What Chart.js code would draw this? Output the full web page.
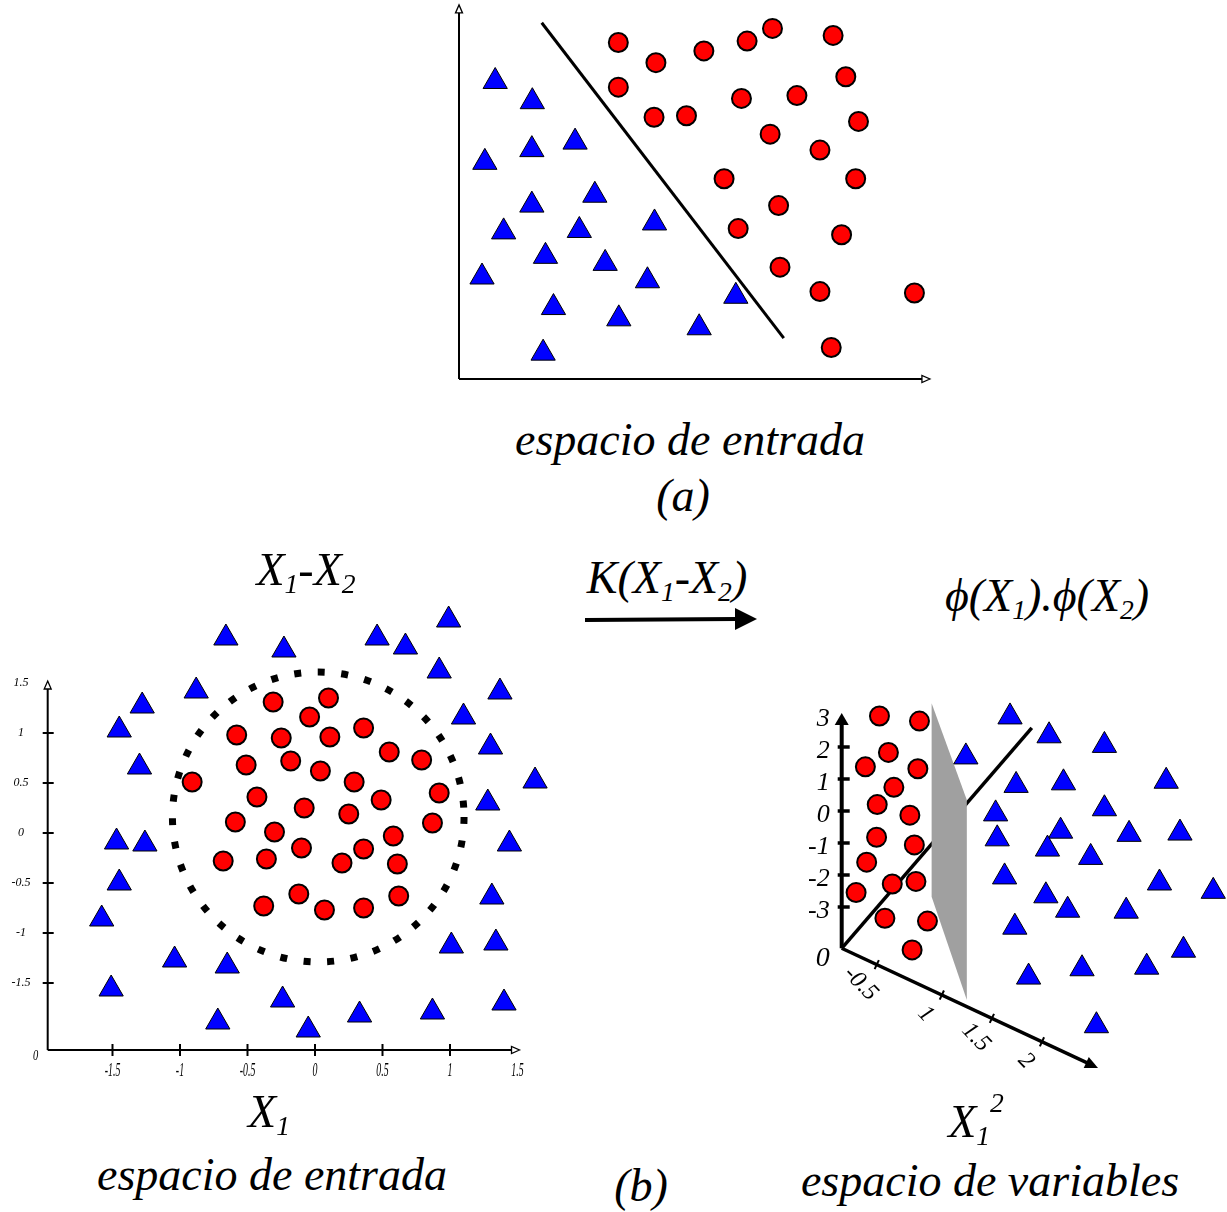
<!DOCTYPE html>
<html>
<head>
<meta charset="utf-8">
<script src="https://cdn.jsdelivr.net/npm/chart.js@4.4.0/dist/chart.umd.min.js"></script>
<style>
body { margin: 0; background: #fff; width: 1227px; height: 1212px; position: relative; overflow: hidden;
       font-family: "Liberation Serif", "Times New Roman", serif; font-style: italic; }
.panel { position: absolute; }
.txt { position: absolute; white-space: nowrap; font-size: 46px; line-height: 1; color: #000; transform: translateX(-50%); }
.txt sub { font-size: 0.6em; vertical-align: -0.28em; line-height: 0; }
.txt sup { font-size: 0.6em; vertical-align: 0.9em; line-height: 0; }
</style>
</head>
<body>

<canvas id="chartA" class="panel" width="510" height="400" style="left:440px;top:0px"></canvas>
<canvas id="chartB" class="panel" width="560" height="510" style="left:0px;top:590px"></canvas>
<canvas id="chartC" class="panel" width="447" height="410" style="left:780px;top:690px"></canvas>

<svg class="panel" style="left:575px;top:600px" width="200" height="40">
  <line x1="10" y1="20" x2="162" y2="19" stroke="#000" stroke-width="4"/>
  <polygon points="160,8 182,19 160,30" fill="#000"/>
</svg>

<div class="txt" style="left:690px;top:417px">espacio de entrada</div>
<div class="txt" style="left:683px;top:473px">(a)</div>
<div class="txt" style="left:306px;top:547px">X<sub>1</sub>-X<sub>2</sub></div>
<div class="txt" style="left:667px;top:555px">K(X<sub>1</sub>-X<sub>2</sub>)</div>
<div class="txt" style="left:1047px;top:573px">ϕ(X<sub>1</sub>).ϕ(X<sub>2</sub>)</div>
<div class="txt" style="left:269px;top:1089px">X<sub>1</sub></div>
<div class="txt" style="left:272px;top:1152px">espacio de entrada</div>
<div class="txt" style="left:641px;top:1163px">(b)</div>
<div class="txt" style="left:976px;top:1099px">X<sub>1</sub><sup>2</sup></div>
<div class="txt" style="left:990px;top:1158px">espacio de variables</div>

<script>
// ---------- (a) espacio de entrada : linearly separable ----------
const aCircleX = [3.39, 4.19, 5.21, 6.13, 6.67, 7.96, 3.39, 8.23, 6.01, 7.19, 4.15, 4.84,
                  8.50, 6.62, 7.68, 5.64, 8.44, 6.80, 5.94, 8.14, 6.83, 7.68, 9.69, 7.92];
const aCircleY = [7.16, 6.73, 6.98, 7.19, 7.46, 7.31, 6.21, 6.43, 5.97, 6.03, 5.57, 5.60,
                  5.48, 5.21, 4.87, 4.26, 4.26, 3.69, 3.20, 3.07, 2.38, 1.86, 1.83, 0.67];
const aTriX = [0.77, 1.56, 0.55, 1.55, 2.47, 1.55, 2.89, 0.95, 2.56, 4.16,
               1.84, 3.11, 0.49, 4.01, 2.01, 3.40, 5.89, 5.11, 1.79];
const aTriY = [6.33, 5.90, 4.61, 4.88, 5.04, 3.70, 3.91, 3.13, 3.16, 3.32,
               2.61, 2.46, 2.17, 2.09, 1.52, 1.28, 1.76, 1.09, 0.55];
const aSepX = [1.76, 6.91];
const aSepY = [7.58, 0.87];
const aAxisXMax = 10.02;
const aAxisYMax = 7.96;

// ---------- (b) X1-X2 : espacio de entrada ----------
const bCircleX = [-0.31, 0.10, -0.04, -0.58, -0.25, 0.11, 0.36, 0.55, 0.79, -0.51, -0.18, 0.04,
                  -0.91, 0.29, -0.43, -0.08, 0.49, 0.92, 0.25, -0.59, -0.30, 0.87, 0.58, -0.10,
                  0.36, -0.68, -0.36, 0.20, 0.61, -0.12, 0.62, -0.38, 0.07, 0.36];
const bCircleY = [1.31, 1.35, 1.16, 0.98, 0.95, 0.96, 1.05, 0.81, 0.73, 0.68, 0.72, 0.62,
                  0.51, 0.51, 0.36, 0.25, 0.33, 0.40, 0.19, 0.11, 0.01, 0.10, -0.03, -0.15,
                  -0.16, -0.28, -0.26, -0.30, -0.31, -0.61, -0.63, -0.73, -0.77, -0.75];
const bTriX = [-0.66, -0.23, 0.46, 0.67, 0.99, -0.88, 0.92, 1.37, 1.10, 1.30, 1.63, 1.28,
               1.44, 1.31, 1.01, 1.34, -1.04, -0.65, -0.24, 0.33, 0.87, 1.40, -0.72, -0.05,
               -1.28, -1.45, -1.30, -1.47, -1.26, -1.45, -1.58, -1.51];
const bTriY = [1.95, 1.83, 1.95, 1.86, 2.13, 1.42, 1.62, 1.41, 1.16, 0.86, 0.52, 0.30,
               -0.11, -0.64, -1.13, -1.10, -1.27, -1.33, -1.67, -1.82, -1.79, -1.70, -1.89, -1.97,
               1.27, 1.03, 0.66, -0.09, -0.11, -0.50, -0.86, -1.56];
const bTicks = [-1.5, -1, -0.5, 0, 0.5, 1, 1.5];
const bTickLabels = ['-1.5', '-1', '-0.5', '0', '0.5', '1', '1.5'];
const bOrigin = [-1.98, -2.17];
const bRingCenter = [0.024, 0.16];
const bRingRadius = [1.08, 1.45];

// ---------- (b) phi(X1).phi(X2) : espacio de variables ----------
const cCircleX = [1.18, 2.43, 1.46, 0.74, 2.38, 1.63, 1.11, 2.13, 1.09, 2.27, 0.78, 1.58,
                  2.32, 0.45, 1.35, 2.68, 2.20];
const cCircleY = [2.97, 2.81, 1.83, 1.38, 1.32, 0.74, 0.20, -0.13, -0.82, -1.06, -1.60, -2.28,
                  -2.20, -2.55, -3.35, -3.44, -4.34];
const cTriX = [5.26, 6.48, 8.21, 3.88, 5.45, 6.93, 10.14, 4.81, 8.21, 4.86, 6.84, 8.98, 10.57,
               6.43, 7.78, 5.09, 9.93, 11.61, 6.38, 7.06, 8.89, 5.41, 10.68, 5.84, 7.51, 9.53, 7.96];
const cTriY = [2.94, 2.35, 2.05, 1.69, 0.80, 0.88, 0.93, -0.09, 0.07, -0.87, -0.63, -0.73, -0.69,
               -1.19, -1.45, -2.06, -2.25, -2.51, -2.65, -3.10, -3.13, -3.63, -4.35, -5.19, -4.93,
               -4.88, -6.71];
const cOrigin = [0, -4.29];
const cVertTop = 3.06;
const cVertTicks = [2, 1, 0, -1, -2, -3];
const cVertLabelVals = [3, 2, 1, 0, -1, -2, -3];
const cVertLabels = ['3', '2', '1', '0', '-1', '-2', '-3'];
const cDepthEnd = [5.94, 2.60];
const cXsqEnd = [8.01, -8.03];
const cXsqLength = 2.56;
const cXsqTicks = [0.35, 1, 1.5, 2];
const cXsqLabels = ['-0.5', '1', '1.5', '2'];
const cPlaneX = [2.81, 3.91, 3.91, 2.81];
const cPlaneY = [3.37, 0.34, -5.91, -2.68];

const zip = (xs, ys) => xs.map((x, i) => ({ x: x, y: ys[i] }));

function circles(xs, ys) {
    return {
        data: zip(xs, ys), pointStyle: 'circle', pointRadius: 9.5,
        backgroundColor: '#ff0000', borderColor: '#000', borderWidth: 2, clip: false
    };
}
function triangles(xs, ys) {
    return {
        data: zip(xs, ys), pointStyle: 'triangle', pointRadius: 14,
        backgroundColor: '#0000ff', borderColor: '#000', borderWidth: 1, clip: false
    };
}
function baseOptions(xMin, xMax, yMin, yMax) {
    return {
        responsive: false, animation: false, events: [],
        layout: { padding: 0, autoPadding: false },
        plugins: { legend: { display: false }, tooltip: { enabled: false } },
        scales: {
            x: { type: 'linear', min: xMin, max: xMax, display: false },
            y: { type: 'linear', min: yMin, max: yMax, display: false }
        }
    };
}
function pt(chart, x, y) {
    return [chart.scales.x.getPixelForValue(x), chart.scales.y.getPixelForValue(y)];
}
function arrowHead(ctx, tx, ty, ang, len, hw, filled) {
    const bx = tx - Math.cos(ang) * len, by = ty - Math.sin(ang) * len;
    const nx = -Math.sin(ang) * hw, ny = Math.cos(ang) * hw;
    ctx.beginPath();
    ctx.moveTo(tx, ty);
    ctx.lineTo(bx + nx, by + ny);
    ctx.lineTo(bx - nx, by - ny);
    ctx.closePath();
    if (filled) {
        ctx.fillStyle = '#000';
        ctx.fill();
    } else {
        ctx.fillStyle = '#fff';
        ctx.fill();
        ctx.lineWidth = 1.3;
        ctx.stroke();
    }
}
function segment(ctx, a, b) {
    ctx.beginPath();
    ctx.moveTo(a[0], a[1]);
    ctx.lineTo(b[0], b[1]);
    ctx.stroke();
}

// ---------- chart (a) ----------
new Chart(document.getElementById('chartA'), {
    type: 'scatter',
    data: {
        datasets: [
            { data: zip(aSepX, aSepY), showLine: true, pointRadius: 0, borderColor: '#000', borderWidth: 3 },
            triangles(aTriX, aTriY),
            circles(aCircleX, aCircleY)
        ]
    },
    options: baseOptions(-0.4043, 10.447, -0.4468, 8.0638),
    plugins: [{
        id: 'axesA',
        beforeDatasetsDraw(chart) {
            const ctx = chart.ctx;
            const o = pt(chart, 0, 0), top = pt(chart, 0, aAxisYMax), right = pt(chart, aAxisXMax, 0);
            ctx.save();
            ctx.strokeStyle = '#000';
            ctx.lineWidth = 2;
            segment(ctx, o, [top[0], top[1] + 7]);
            segment(ctx, o, [right[0] - 7, right[1]]);
            arrowHead(ctx, top[0], top[1], -Math.PI / 2, 8, 3.5, false);
            arrowHead(ctx, right[0], right[1], 0, 8, 3.5, false);
            ctx.restore();
        }
    }]
});

// ---------- chart (b) left ----------
new Chart(document.getElementById('chartB'), {
    type: 'scatter',
    data: { datasets: [triangles(bTriX, bTriY), circles(bCircleX, bCircleY)] },
    options: baseOptions(-2.3333, 1.8148, -2.67, 2.43),
    plugins: [{
        id: 'axesB',
        beforeDatasetsDraw(chart) {
            const ctx = chart.ctx;
            const xs = chart.scales.x, ys = chart.scales.y;
            const o = pt(chart, bOrigin[0], bOrigin[1]);
            const top = pt(chart, bOrigin[0], bTicks[bTicks.length - 1]);
            const right = pt(chart, bTicks[bTicks.length - 1], bOrigin[1]);
            ctx.save();
            ctx.strokeStyle = '#000';
            ctx.lineWidth = 2;
            segment(ctx, o, [top[0], top[1] + 6]);
            segment(ctx, o, [right[0] - 6, right[1]]);
            arrowHead(ctx, top[0], top[1] - 2, -Math.PI / 2, 8, 3.5, false);
            arrowHead(ctx, right[0] + 2, right[1], 0, 8, 3.5, false);

            // ticks and labels
            ctx.fillStyle = '#000';
            bTicks.forEach((v, i) => {
                const yp = ys.getPixelForValue(v);
                const xp = xs.getPixelForValue(v);
                if (i < bTicks.length - 1) {
                    ctx.lineWidth = 2;
                    segment(ctx, [o[0] - 5, yp], [o[0] + 6, yp]);
                    segment(ctx, [xp, o[1] - 6], [xp, o[1] + 6]);
                }
                ctx.font = 'italic 12px "Liberation Serif"';
                ctx.textAlign = 'center';
                ctx.textBaseline = 'middle';
                ctx.fillText(bTickLabels[i], 21, yp);
                ctx.save();
                ctx.translate(xp, o[1] + 21);
                ctx.scale(0.55, 1);
                ctx.font = 'italic 18px "Liberation Serif"';
                ctx.fillText(bTickLabels[i], 0, 0);
                ctx.restore();
            });
            ctx.font = 'italic 15px "Liberation Serif"';
            ctx.save();
            ctx.translate(o[0] - 12, o[1] + 6);
            ctx.scale(0.7, 1);
            ctx.fillText('0', 0, 0);
            ctx.restore();

            // dotted separating ring
            const c = pt(chart, bRingCenter[0], bRingCenter[1]);
            const rx = xs.getPixelForValue(bRingCenter[0] + bRingRadius[0]) - c[0];
            const ry = c[1] - ys.getPixelForValue(bRingCenter[1] + bRingRadius[1]);
            ctx.lineWidth = 7;
            ctx.lineCap = 'butt';
            ctx.setLineDash([7, 16.6]);
            ctx.beginPath();
            ctx.ellipse(c[0], c[1], rx, ry, 0, 0, Math.PI * 2);
            ctx.stroke();
            ctx.restore();
        }
    }]
});

// ---------- chart (b) right ----------
new Chart(document.getElementById('chartC'), {
    type: 'scatter',
    data: { datasets: [triangles(cTriX, cTriY), circles(cCircleX, cCircleY)] },
    options: baseOptions(-1.928, 12.04, -9.031, 3.781),
    plugins: [{
        id: 'axesC',
        beforeDatasetsDraw(chart) {
            const ctx = chart.ctx;
            const ys = chart.scales.y;
            const o = pt(chart, cOrigin[0], cOrigin[1]);
            const top = pt(chart, cOrigin[0], cVertTop);
            const depth = pt(chart, cDepthEnd[0], cDepthEnd[1]);
            const xsq = pt(chart, cXsqEnd[0], cXsqEnd[1]);
            ctx.save();
            ctx.strokeStyle = '#000';
            ctx.fillStyle = '#000';

            // depth axis (partly hidden by the plane)
            ctx.lineWidth = 3.5;
            segment(ctx, o, depth);

            // vertical axis
            ctx.lineWidth = 4;
            segment(ctx, o, [top[0], top[1] + 10]);
            arrowHead(ctx, top[0], top[1], -Math.PI / 2, 12, 7, true);
            cVertTicks.forEach(v => {
                const yp = ys.getPixelForValue(v);
                ctx.lineWidth = 3.5;
                segment(ctx, [o[0] - 4, yp], [o[0] + 8, yp]);
            });

            // X1^2 axis
            const ang = Math.atan2(xsq[1] - o[1], xsq[0] - o[0]);
            ctx.lineWidth = 3.5;
            segment(ctx, o, [xsq[0] - Math.cos(ang) * 9, xsq[1] - Math.sin(ang) * 9]);
            arrowHead(ctx, xsq[0], xsq[1], ang, 13, 6, true);
            ctx.font = 'italic 24px "Liberation Serif"';
            ctx.textAlign = 'center';
            ctx.textBaseline = 'middle';
            cXsqTicks.forEach((v, i) => {
                const f = v / cXsqLength;
                const tx = o[0] + (xsq[0] - o[0]) * f, ty = o[1] + (xsq[1] - o[1]) * f;
                const nx = -Math.sin(ang) * 5, ny = Math.cos(ang) * 5;
                ctx.lineWidth = 2;
                segment(ctx, [tx - nx, ty - ny], [tx + nx, ty + ny]);
                ctx.save();
                ctx.translate(tx - 16, ty + 19);
                ctx.rotate(0.8);
                ctx.fillText(cXsqLabels[i], 0, 0);
                ctx.restore();
            });

            // separating plane
            ctx.fillStyle = '#a0a0a0';
            ctx.beginPath();
            cPlaneX.forEach((x, i) => {
                const p = pt(chart, x, cPlaneY[i]);
                if (i === 0) ctx.moveTo(p[0], p[1]); else ctx.lineTo(p[0], p[1]);
            });
            ctx.closePath();
            ctx.fill();

            // vertical labels
            ctx.fillStyle = '#000';
            ctx.font = 'italic 26px "Liberation Serif"';
            ctx.textAlign = 'right';
            cVertLabelVals.forEach((v, i) => {
                ctx.fillText(cVertLabels[i], o[0] - 12, ys.getPixelForValue(v) + 4);
            });
            ctx.font = 'italic 28px "Liberation Serif"';
            ctx.fillText('0', o[0] - 12, o[1] + 10);
            ctx.restore();
        }
    }]
});
</script>
</body>
</html>
